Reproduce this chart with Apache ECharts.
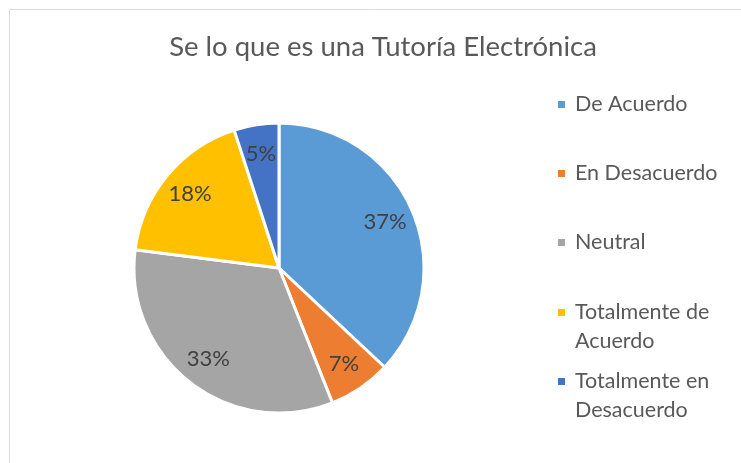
<!DOCTYPE html>
<html><head><meta charset="utf-8">
<script src="https://cdn.jsdelivr.net/npm/echarts@6/dist/echarts.min.js"></script>
<style>html,body{margin:0;padding:0;background:#fff}#c{width:741px;height:463px}</style>
</head><body><div id="c"></div>
<script>
const categories = ['De Acuerdo','En Desacuerdo','Neutral','Totalmente de Acuerdo','Totalmente en Desacuerdo'];
const values = [37, 7, 33, 18, 5];
const colors = ['#5B9BD5','#ED7D31','#A5A5A5','#FFC000','#4472C4'];
const FONT = 'Lato';

const data = categories.map((n,i)=>({name:n, value:values[i]}));
const legendTops = [85, 154, 223, 292, 361];
const wrapped = [false,false,false,true,true];
// icon for two-line entries: square aligned with the first text line
const topIcon = 'path://M0,0H7V7H0Z M0,35.95H0.05V36H0Z';
const legends = categories.map((n,i)=>({
  data:[n], orient:'vertical', left:553, top: wrapped[i] ? legendTops[i]+1 : legendTops[i],
  icon: wrapped[i] ? topIcon : 'rect', itemWidth:7, itemHeight: wrapped[i] ? 36 : 7,
  selectedMode:false, itemStyle:{borderWidth:0},
  textStyle:{fontFamily:FONT, fontSize:21.5, color:'#595959', lineHeight:29,
    width:155, overflow:'break', padding:[0,0,0,5]}
}));

const chart = echarts.init(document.getElementById('c'));
chart.setOption({
  animation:false,
  color: colors,
  title:{text:'Se lo que es una Tutoría Electrónica', left:378, top:28, textAlign:'center',
    textStyle:{fontFamily:FONT, fontSize:27.5, fontWeight:'normal', color:'#595959'}},
  legend: legends,
  graphic:[{type:'rect', left:7, top:7, shape:{width:800, height:500},
    style:{fill:'none', stroke:'#D9D9D9', lineWidth:1}, silent:true}],
  series:[
    {type:'pie', center:[279,268], radius:[0,145], startAngle:90, clockwise:true,
     data:data, label:{show:false}, labelLine:{show:false},
     itemStyle:{borderColor:'#fff', borderWidth:3}, emphasis:{disabled:true}},
    {type:'pie', center:[279,268], radius:[80,145], startAngle:90, clockwise:true,
     data:data, silent:true, legendHoverLink:false,
     itemStyle:{color:'transparent', borderWidth:0},
     label:{show:true, position:'inside', formatter:'{d}%', fontFamily:FONT, fontSize:22, color:'#404040'},
     labelLine:{show:false}, emphasis:{disabled:true}}
  ]
});
</script></body></html>
